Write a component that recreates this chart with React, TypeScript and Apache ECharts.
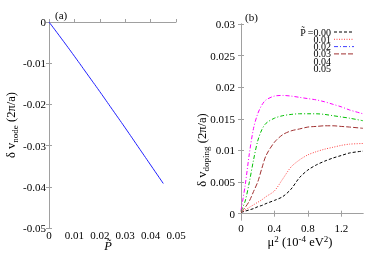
import React, { useEffect, useRef } from "react";
import * as echarts from "echarts";

// Panel (a): node shift vs P~
const P_TILDE = [0, 0.005, 0.01, 0.015, 0.02, 0.025, 0.03, 0.035, 0.04, 0.045];
const V_NODE = [0, -0.0041, -0.0083, -0.0126, -0.0169, -0.0213, -0.0257, -0.0302, -0.0347, -0.0392];

// Panel (b): doping shift vs mu^2
const MU2 = [0, 0.05, 0.1, 0.15, 0.2, 0.25, 0.3, 0.4, 0.5, 0.6, 0.7, 0.8, 0.9, 1.0, 1.1, 1.2, 1.3, 1.46];
const DOPING_000 = [0.0002, 0.0004, 0.0006, 0.0008, 0.0011, 0.0013, 0.0016, 0.0021, 0.0027, 0.0039, 0.0057, 0.0069, 0.0077, 0.0083, 0.0088, 0.0092, 0.0096, 0.0099];
const DOPING_001 = [0.0002, 0.0006, 0.001, 0.0014, 0.0018, 0.0022, 0.0027, 0.0036, 0.0055, 0.0074, 0.0085, 0.0093, 0.0098, 0.0102, 0.0105, 0.0108, 0.011, 0.0111];
const DOPING_003 = [0.0003, 0.001, 0.002, 0.0035, 0.005, 0.0072, 0.0092, 0.0113, 0.0125, 0.0131, 0.0134, 0.0137, 0.0138, 0.0139, 0.0139, 0.0138, 0.0137, 0.0135];
const DOPING_004 = [0.0004, 0.002, 0.005, 0.0085, 0.0115, 0.0133, 0.0143, 0.0151, 0.0155, 0.0157, 0.0158, 0.0158, 0.0158, 0.0157, 0.0155, 0.0153, 0.0151, 0.0147];
const DOPING_005 = [0.0005, 0.0045, 0.0095, 0.0135, 0.0158, 0.0172, 0.018, 0.0186, 0.0187, 0.0186, 0.0184, 0.0182, 0.018, 0.0177, 0.0173, 0.0169, 0.0164, 0.0158];

const B_X_TICKS = [0, 0.4, 0.8, 1.2];
const B_Y_TICKS = [0, 0.005, 0.01, 0.015, 0.02, 0.025, 0.03];
const LEGEND_LABELS = ["0.00", "0.01", "0.02", "0.03", "0.04", "0.05"];

const FONT = "'Liberation Serif', 'Times New Roman', serif";
const GREY = "#a0a0a0";

const zip = (xs: number[], ys: number[]) => ys.map((y, i) => [xs[i], y]);

export default function App() {
  const ref = useRef<HTMLDivElement>(null);
  useEffect(() => {
    if (!ref.current) return;
    const chart = echarts.init(ref.current, undefined, { renderer: "svg" });
    const label = { fontFamily: FONT, fontSize: 11, color: "#000" };
    const tick = { inside: true, length: 3, lineStyle: { color: GREY, width: 1 } };
    const line = { show: true, lineStyle: { color: GREY, width: 1 } };
    const noLine = { show: false };

    const curve = (name: string, ys: number[], color: string, dash: any) => ({
      name,
      type: "line",
      xAxisIndex: 2,
      yAxisIndex: 2,
      data: zip(MU2, ys),
      showSymbol: false,
      smooth: 0.3,
      lineStyle: { color, width: 1, type: dash },
    });

    const ROW = 7.3;
    const LEG_TOP = 32;
    const legendColors = ["#000000", "#ff4040", "#4040ff", "#a03030"];
    const legendDash: any[] = [[3, 2], [1, 1.5], [4, 2, 1, 2], [5, 2]];
    const legendLines = legendColors.map((c, i) => ({
      type: "line",
      shape: { x1: 334, y1: LEG_TOP + i * ROW, x2: 354, y2: LEG_TOP + i * ROW },
      style: { stroke: c, lineWidth: 1, lineDash: legendDash[i] },
    }));
    const legendText = {
      type: "text",
      x: 331,
      y: LEG_TOP - ROW / 2,
      style: {
        text: LEGEND_LABELS.map((t, i) => (i === 0 ? "P\u0303 =" + t : t)).join("\n"),
        align: "right",
        verticalAlign: "top",
        fontFamily: FONT,
        fontSize: 10,
        lineHeight: ROW,
        fill: "#000",
      },
    };

    const subRich = { sub: { fontFamily: FONT, fontSize: 9, padding: [7, 0, 0, 0], fill: "#000" } };
    const supRich = { sup: { fontFamily: FONT, fontSize: 9, padding: [0, 0, 7, 0], fill: "#000" } };

    chart.setOption({
      animation: false,
      grid: [
        { left: 49, top: 22, width: 127, height: 206 },
        { left: 241, top: 24, width: 122, height: 196 },
      ],
      xAxis: [
        {
          gridIndex: 0, type: "value", position: "bottom", min: 0, max: 0.05, interval: 0.01,
          axisLine: noLine, axisTick: tick, axisLabel: { ...label, margin: 1 }, splitLine: { show: false },
        },
        {
          gridIndex: 0, type: "value", position: "top", min: 0, max: 0.05, interval: 0.01,
          axisLine: line, axisTick: { show: false }, axisLabel: { show: false }, splitLine: { show: false },
        },
        {
          gridIndex: 1, type: "value", position: "bottom", min: 0, max: 1.46,
          axisLine: line, axisTick: { ...tick, customValues: B_X_TICKS },
          axisLabel: { ...label, margin: 2, customValues: B_X_TICKS }, splitLine: { show: false },
        },
        {
          gridIndex: 1, type: "value", position: "top", min: 0, max: 1.46,
          axisLine: line, axisTick: { ...tick, customValues: B_X_TICKS },
          axisLabel: { show: false }, splitLine: { show: false },
        },
      ],
      yAxis: [
        {
          gridIndex: 0, type: "value", position: "left", min: -0.05, max: 0, interval: 0.01,
          axisLine: line, axisTick: tick, axisLabel: { ...label, margin: 3 }, splitLine: { show: false },
        },
        {
          gridIndex: 0, type: "value", position: "right", min: -0.05, max: 0, interval: 0.01,
          axisLine: line, axisTick: tick, axisLabel: { show: false }, splitLine: { show: false },
        },
        {
          gridIndex: 1, type: "value", position: "left", min: -0.001, max: 0.03,
          axisLine: line, axisTick: { ...tick, customValues: B_Y_TICKS },
          axisLabel: { ...label, margin: 6, customValues: B_Y_TICKS }, splitLine: { show: false },
        },
        {
          gridIndex: 1, type: "value", position: "right", min: -0.001, max: 0.03,
          axisLine: line, axisTick: { ...tick, customValues: B_Y_TICKS },
          axisLabel: { show: false }, splitLine: { show: false },
        },
      ],
      series: [
        {
          name: "node",
          type: "line",
          xAxisIndex: 0,
          yAxisIndex: 0,
          data: zip(P_TILDE, V_NODE),
          showSymbol: false,
          smooth: true,
          lineStyle: { color: "#2020ff", width: 1 },
        },
        curve("0.00", DOPING_000, "#000000", [3, 2]),
        curve("0.01", DOPING_001, "#ff4040", [1, 1.5]),
        curve("0.03", DOPING_003, "#a03030", [5, 2]),
        curve("0.04", DOPING_004, "#00c000", [4, 2, 1, 2]),
        curve("0.05", DOPING_005, "#ff00ff", [4, 2, 1, 2]),
      ],
      graphic: [
        {
          type: "text", x: 55, y: 15,
          style: { text: "(a)", align: "left", verticalAlign: "middle", fontFamily: FONT, fontSize: 11, fill: "#000" },
        },
        {
          type: "text", x: 245, y: 17,
          style: { text: "(b)", align: "left", verticalAlign: "middle", fontFamily: FONT, fontSize: 11, fill: "#000" },
        },
        {
          type: "text", x: 11, y: 125, rotation: Math.PI / 2,
          style: {
            text: "δ v{sub|node} (2π/a)",
            align: "center", verticalAlign: "middle", fontFamily: FONT, fontSize: 12.5, fill: "#000",
            rich: subRich,
          },
        },
        {
          type: "text", x: 202, y: 150, rotation: Math.PI / 2,
          style: {
            text: "δ v{sub|doping} (2π/a)",
            align: "center", verticalAlign: "middle", fontFamily: FONT, fontSize: 12.5, fill: "#000",
            rich: subRich,
          },
        },
        {
          type: "text", x: 108, y: 246,
          style: { text: "P\u0303", align: "center", verticalAlign: "middle", fontFamily: FONT, fontStyle: "italic", fontSize: 12.5, fill: "#000" },
        },
        {
          type: "text", x: 300, y: 242,
          style: {
            text: "μ{sup|2} (10{sup|-4} eV{sup|2})",
            align: "center", verticalAlign: "middle", fontFamily: FONT, fontSize: 12.5, fill: "#000",
            rich: supRich,
          },
        },
        legendText,
        ...legendLines,
      ],
    });
    return () => chart.dispose();
  }, []);
  return <div ref={ref} style={{ position: "fixed", left: 0, top: 0, width: 374, height: 262 }} />;
}
